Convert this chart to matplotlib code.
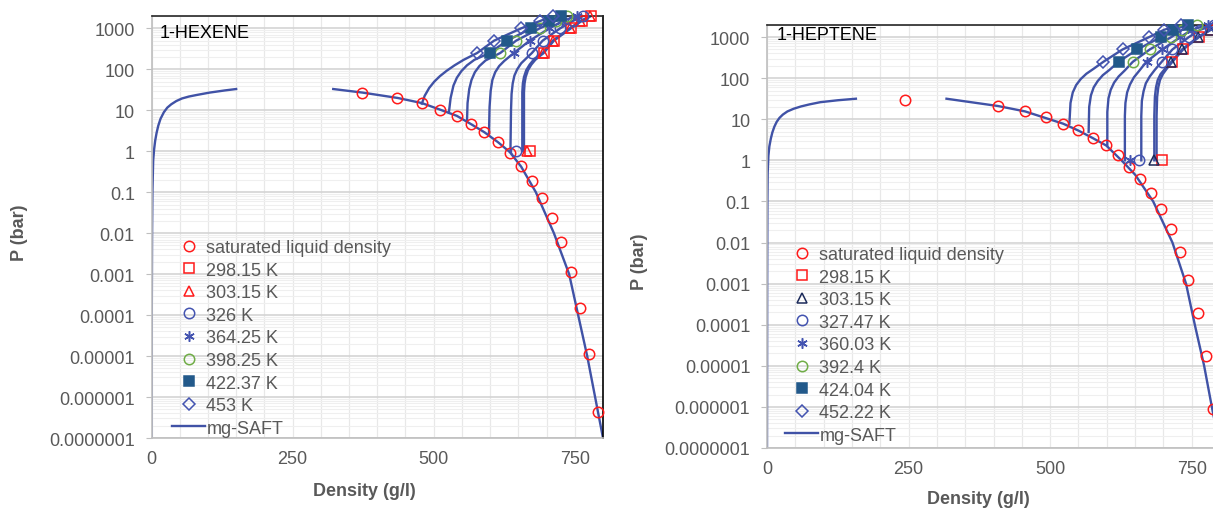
import matplotlib.pyplot as plt
import numpy as np
from matplotlib.ticker import FixedLocator, MultipleLocator, LogLocator, NullFormatter
from matplotlib.lines import Line2D

plt.rcParams['font.family'] = ['Liberation Sans', 'DejaVu Sans']

GRAY = '#595959'
LINE_BLUE = '#4052a6'
MARK_BLUE = '#4353b0'
RED = '#ff1a1a'
GREEN = '#70ad47'
STEEL = '#22598a'
NAVY = '#1b2a5a'

y_ticks = [1e-7, 1e-6, 1e-5, 1e-4, 1e-3, 1e-2, 0.1, 1, 10, 100, 1000]
y_labels = ['0.0000001', '0.000001', '0.00001', '0.0001', '0.001', '0.01',
            '0.1', '1', '10', '100', '1000']
x_ticks = [0, 250, 500, 750]

# ---------------- 1-HEXENE ----------------
hex_temps = ['298.15 K', '303.15 K', '326 K', '364.25 K', '398.25 K', '422.37 K', '453 K']
hex_sat_rho = [373.5, 435.8, 478.6, 510.8, 541, 566.3, 590, 613.8, 634.9, 654.6,
               674.2, 692.4, 709.9, 726, 742.9, 759.6, 775, 790.4]
hex_sat_p = [26.5, 20.0, 14.9, 10.4, 7.3, 4.6, 2.9, 1.66, 0.91, 0.445,
             0.19, 0.072, 0.0235, 0.006, 0.00115, 0.000147, 1.12e-5, 4.3e-7]
hex_vap_rho = [0, 0.5, 1.0, 1.6, 3, 4.6, 6.5, 9, 12, 16, 22, 28, 35, 44, 54, 66, 80, 103, 130, 150]
hex_vap_p = [1e-7, 1e-4, 0.01, 0.1, 0.6, 1.1, 1.8, 2.8, 4.2, 6.2, 9, 11.6, 14, 16.8, 19.4,
             21.6, 23.6, 27, 30.5, 33]
hex_liq_rho = [322, 374, 436, 479, 511, 541, 566, 590, 614, 635, 655, 681, 713, 740, 756, 772, 786, 800]
hex_liq_p = [33, 27, 20, 15, 10.4, 7.3, 4.6, 2.9, 1.66, 0.95, 0.42, 0.1, 0.01, 1e-3, 1e-4, 1e-5, 1e-6, 1e-7]

hex_iso_rho = [
    [660, 660, 660, 661, 663, 667, 673, 680, 688, 695, 713, 743, 762, 779],
    [657, 657, 657, 658, 660, 664, 670, 677, 685, 693, 711, 741, 760, 777],
    [636, 637, 638, 640, 643, 648, 655, 664, 674, 693, 724, 746, 765],
    [598, 599, 601, 604, 609, 616, 625, 642, 670, 705, 728, 754],
    [559, 560, 563, 567, 573, 581, 592, 618, 646, 688, 716, 737],
    [527, 530, 535, 541, 549, 559, 572, 599, 630, 673, 704, 725],
    [479, 484, 492, 501, 511, 523, 537, 553, 577, 607, 655, 688, 711],
]
hex_iso_p = [
    [1, 10, 27.5, 45, 65, 95, 130, 170, 210, 250, 500, 1000, 1500, 2000],
    [1, 10, 27.5, 45, 65, 95, 130, 170, 210, 250, 500, 1000, 1500, 2000],
    [1, 10, 25, 45, 70, 100, 140, 185, 250, 500, 1000, 1500, 2000],
    [2.8, 12, 30, 55, 85, 120, 160, 250, 500, 1000, 1500, 2000],
    [5.3, 15, 33, 55, 85, 120, 165, 250, 500, 1000, 1500, 2000],
    [9, 20, 40, 62, 90, 125, 170, 250, 500, 1000, 1500, 2000],
    [14.5, 22.5, 35, 50, 68, 92, 125, 170, 250, 500, 1000, 1500, 2000],
]
hex_mark_rho = [
    [670, 695, 713, 743, 762, 779],
    [666, 693, 711, 741, 760, 777],
    [645, 674, 693, 724, 746, 765],
    [642, 670, 705, 728, 754],
    [618, 646, 688, 716, 737],
    [599, 630, 673, 704, 725],
    [576, 607, 655, 688, 711],
]
hex_mark_p = [
    [1, 250, 500, 1000, 1500, 2000],
    [1, 250, 500, 1000, 1500, 2000],
    [1, 250, 500, 1000, 1500, 2000],
    [250, 500, 1000, 1500, 2000],
    [250, 500, 1000, 1500, 2000],
    [250, 500, 1000, 1500, 2000],
    [250, 500, 1000, 1500, 2000],
]

# ---------------- 1-HEPTENE ----------------
hep_temps = ['298.15 K', '303.15 K', '327.47 K', '360.03 K', '392.4 K', '424.04 K', '452.22 K']
hep_sat_rho = [244, 407.8, 455.7, 492.5, 523, 550, 575, 599.3, 620, 640, 659.6,
               677.6, 695.7, 713, 729, 743.8, 760.6, 775.8, 787]
hep_sat_p = [28.7, 21.0, 15.5, 11.3, 7.8, 5.35, 3.5, 2.3, 1.32, 0.69, 0.356,
             0.163, 0.064, 0.0216, 0.006, 0.00126, 0.00019, 1.78e-5, 9e-7]
hep_vap_rho = [0, 0.3, 0.7, 1.2, 2.5, 4.2, 6.8, 9.5, 13, 17, 22, 28, 36, 47, 60, 75, 94, 125, 157]
hep_vap_p = [1e-7, 1e-3, 0.1, 0.5, 1.3, 2.2, 3.4, 4.8, 6.6, 8.6, 10.8, 13, 15.5, 18, 20.5,
             23, 26, 29, 31.6]
hep_liq_rho = [317, 408, 456, 494, 523, 550, 575, 599, 626, 650, 682, 716, 740, 755.5, 772, 785.6, 800]
hep_liq_p = [31.6, 21, 15.5, 10.5, 7.8, 5.3, 3.5, 2.3, 1.0, 0.45, 0.1, 0.01, 1e-3, 1e-4, 1e-5, 1e-6, 1e-7]

hep_iso_rho = [
    [688, 688, 689, 691, 694, 699, 706, 716, 735, 763, 784, 806],
    [684, 684, 685, 687, 690, 695, 703, 714, 733, 761, 782, 804],
    [661, 661, 662, 665, 669, 676, 685, 697, 716, 745, 765, 790],
    [632, 632, 633, 636, 641, 648, 658, 670, 698, 730, 750, 779],
    [601, 601, 603, 607, 613, 621, 632, 646, 676, 714, 733, 760],
    [568, 569, 572, 577, 584, 593, 605, 621, 654, 696, 717, 744],
    [534, 536, 540, 546, 554, 564, 577, 594, 628, 675, 701, 732],
]
hep_iso_p = [
    [1, 12, 35, 60, 90, 125, 170, 250, 500, 1000, 1500, 2000],
    [1, 12, 35, 60, 90, 125, 170, 250, 500, 1000, 1500, 2000],
    [1, 12, 28, 48, 75, 110, 160, 250, 500, 1000, 1500, 2000],
    [1, 12, 25, 45, 70, 105, 155, 250, 500, 1000, 1500, 2000],
    [2.3, 15, 32, 52, 78, 110, 155, 250, 500, 1000, 1500, 2000],
    [4.9, 20, 38, 60, 85, 118, 160, 250, 500, 1000, 1500, 2000],
    [7.8, 25, 45, 68, 95, 128, 170, 250, 500, 1000, 1500, 2000],
]
hep_mark_rho = [
    [697, 716, 735, 763, 784, 806],
    [684, 714, 733, 761, 782, 804],
    [657, 698, 716, 745, 765, 790],
    [641, 671, 698, 730, 750, 779],
    [646, 676, 714, 733, 760],
    [621, 654, 696, 717, 744],
    [594, 628, 675, 701, 732],
]
hep_mark_p = [
    [1, 250, 500, 1000, 1500, 2000],
    [1, 250, 500, 1000, 1500, 2000],
    [1, 250, 500, 1000, 1500, 2000],
    [1, 250, 500, 1000, 1500, 2000],
    [250, 500, 1000, 1500, 2000],
    [250, 500, 1000, 1500, 2000],
    [250, 500, 1000, 1500, 2000],
]

ASTERISK = (6, 2, 0)
hex_styles = [('s', RED, False), ('^', RED, False), ('o', MARK_BLUE, False),
              (ASTERISK, MARK_BLUE, False), ('o', GREEN, False), ('s', STEEL, True),
              ('D', MARK_BLUE, False)]
hep_styles = [('s', RED, False), ('^', NAVY, False), ('o', MARK_BLUE, False),
              (ASTERISK, MARK_BLUE, False), ('o', GREEN, False), ('s', STEEL, True),
              ('D', MARK_BLUE, False)]

FS = 13


def marker_kw(style):
    m, c, filled = style
    ms = 7.5
    if m == 'D':
        ms = 6
    elif m == 's':
        ms = 7
    return dict(marker=m, ms=ms, mec=c, mfc=c if filled else 'none', mew=1.1,
                linestyle='none')


def draw_panel(ax, name, temps, styles, sat_rho, sat_p, vap_rho, vap_p,
               liq_rho, liq_p, iso_rho, iso_p, mark_rho, mark_p, legend_xy, title_xy):
    ax.set_yscale('log')
    ax.set_xlim(0, 800)
    ax.set_ylim(1e-7, 2000)

    # grid
    ax.yaxis.set_minor_locator(LogLocator(base=10, subs=np.arange(2, 10), numticks=30))
    ax.yaxis.set_minor_formatter(NullFormatter())
    ax.xaxis.set_minor_locator(MultipleLocator(50))
    ax.grid(which='major', axis='y', color='#d4d4d4', lw=1.2, zorder=0)
    ax.grid(which='minor', axis='y', color='#efefef', lw=0.8, zorder=0)
    ax.grid(which='both', axis='x', color='#e8e8e8', lw=0.9, zorder=0)
    ax.set_axisbelow(True)

    # model curves
    line_kw = dict(color=LINE_BLUE, lw=1.7, zorder=2)
    ax.plot(vap_rho, vap_p, **line_kw)
    ax.plot(liq_rho, liq_p, **line_kw)
    for r, p in zip(iso_rho, iso_p):
        ax.plot(r, p, **line_kw)

    handles = []
    h, = ax.plot(sat_rho, sat_p, marker='o', ms=7.5, mec=RED, mfc='none', mew=1.1,
                 linestyle='none', zorder=3, clip_on=False)
    handles.append(h)
    for r, p, st in zip(mark_rho, mark_p, styles):
        h, = ax.plot(r, p, zorder=4, clip_on=False, **marker_kw(st))
        handles.append(h)
    handles.append(Line2D([], [], color=LINE_BLUE, lw=1.7))
    labels = ['saturated liquid density'] + temps + ['mg-SAFT']

    leg = ax.legend(handles, labels, loc='upper left', bbox_to_anchor=legend_xy,
                    bbox_transform=fig.transFigure, frameon=False, fontsize=FS,
                    labelspacing=0.31, handlelength=1.85, handletextpad=0.05,
                    borderpad=0, borderaxespad=0)
    for t in leg.get_texts():
        t.set_color(GRAY)

    ax.text(title_xy[0], title_xy[1], name, transform=ax.transAxes, fontsize=FS,
            color='black', va='center', ha='left')

    ax.yaxis.set_major_locator(FixedLocator(y_ticks))
    ax.set_yticklabels(y_labels)
    ax.set_xticks(x_ticks)
    ax.tick_params(axis='y', which='major', length=4, color='#bfbfbf', labelsize=FS,
                   labelcolor=GRAY, pad=8)
    ax.tick_params(axis='y', which='minor', length=0)
    ax.tick_params(axis='x', which='both', length=0, labelsize=FS, labelcolor=GRAY, pad=9)

    ax.spines['top'].set_color('#262626')
    ax.spines['right'].set_color('black')
    ax.spines['left'].set_color('#bfbfbf')
    ax.spines['bottom'].set_color('#bfbfbf')
    for s in ax.spines.values():
        s.set_linewidth(1.2)


fig = plt.figure(figsize=(12.13, 5.10), dpi=100)
ax1 = fig.add_axes([151.5 / 1213, 1 - 439 / 510, 451.5 / 1213, 422 / 510])
ax2 = fig.add_axes([767 / 1213, 1 - 449 / 510, 453 / 1213, 423.3 / 510])

draw_panel(ax1, '1-HEXENE', hex_temps, hex_styles, hex_sat_rho, hex_sat_p,
           hex_vap_rho, hex_vap_p, hex_liq_rho, hex_liq_p,
           hex_iso_rho, hex_iso_p, hex_mark_rho, hex_mark_p,
           (172 / 1213, 1 - 240 / 510), (0.019, 0.962))
draw_panel(ax2, '1-HEPTENE', hep_temps, hep_styles, hep_sat_rho, hep_sat_p,
           hep_vap_rho, hep_vap_p, hep_liq_rho, hep_liq_p,
           hep_iso_rho, hep_iso_p, hep_mark_rho, hep_mark_p,
           (785 / 1213, 1 - 247 / 510), (0.021, 0.976))

lab = dict(fontsize=FS, fontweight='bold', color=GRAY, ha='center', va='center')
fig.text(20 / 1213, 1 - 233 / 510, 'P (bar)', rotation=90, **lab)
fig.text(639 / 1213, 1 - 262 / 510, 'P (bar)', rotation=90, **lab)
fig.text(364 / 1213, 1 - 492 / 510, 'Density (g/l)', **lab)
fig.text(978 / 1213, 1 - 500 / 510, 'Density (g/l)', **lab)

fig.savefig('out.png', dpi=100)
